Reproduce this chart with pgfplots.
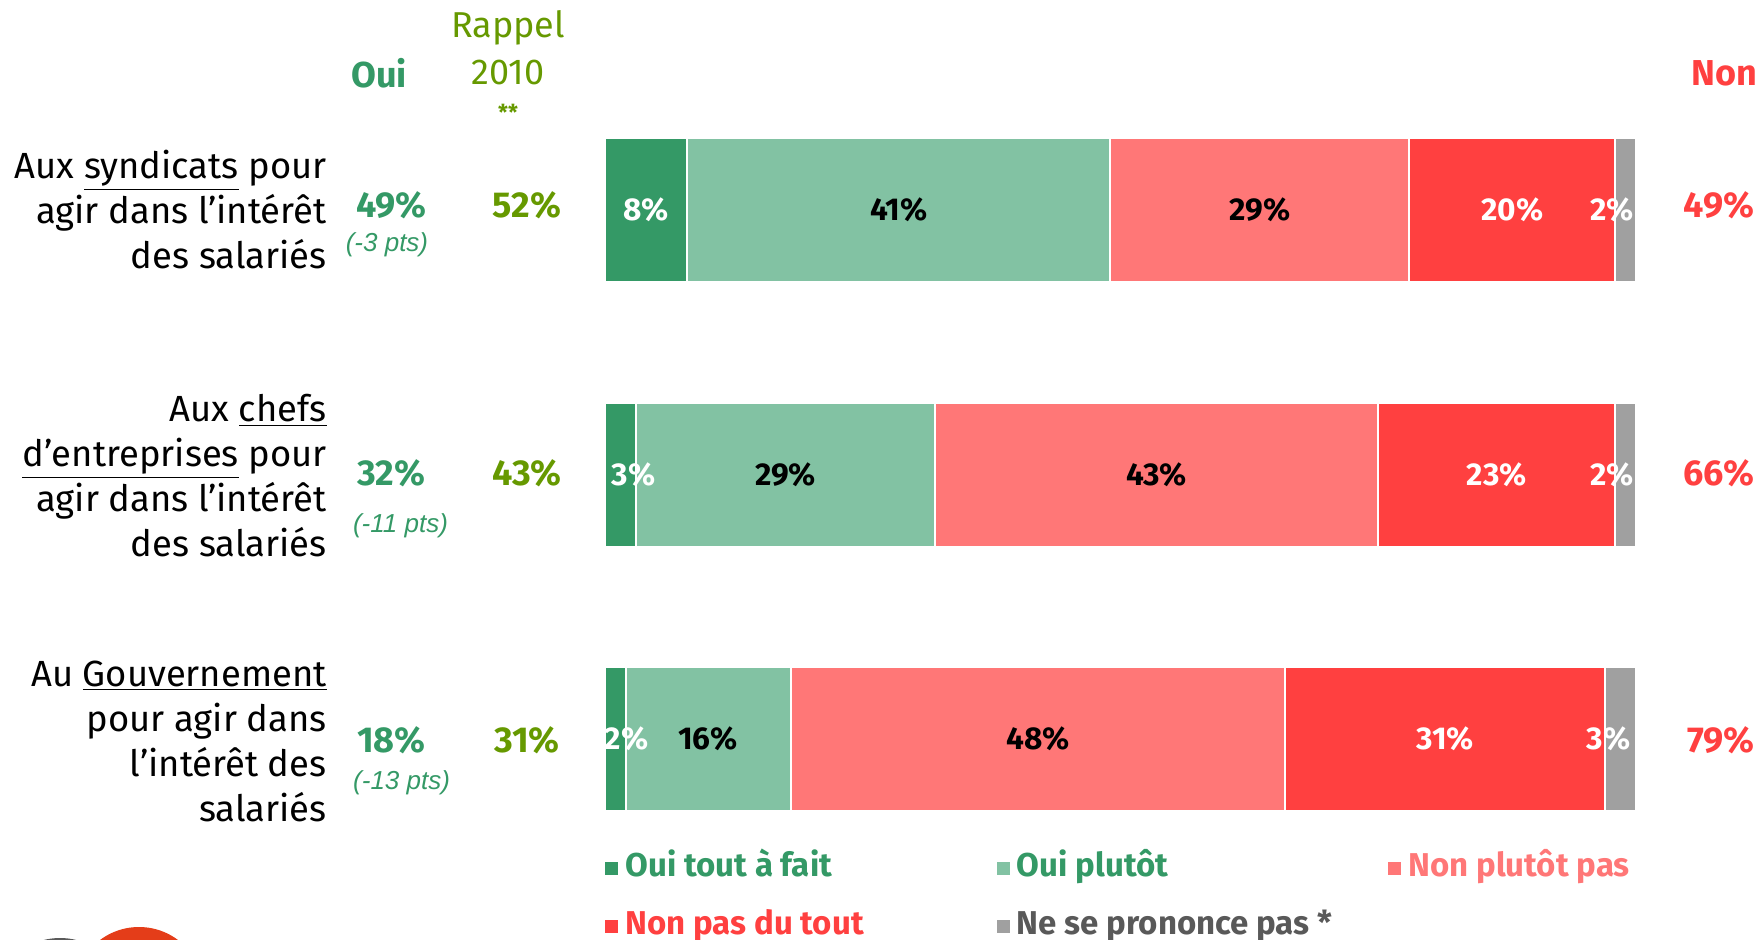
\documentclass[border=0pt]{standalone}
\usepackage{pgfplots}
\pgfplotsset{compat=1.18}
\usepackage{pgfplotstable}
\usepackage{fontspec}
\setmainfont{Fira Sans}
\newfontfamily\arialfont{Liberation Sans}
\definecolor{dkgreen}{RGB}{52,153,102}
\definecolor{ltgreen}{RGB}{130,194,163}
\definecolor{pinkc}{RGB}{255,119,119}
\definecolor{redc}{RGB}{255,64,64}
\definecolor{grayc}{RGB}{160,160,160}
\definecolor{olive}{RGB}{102,153,0}
\definecolor{legray}{RGB}{89,89,89}
\definecolor{logored}{RGB}{228,61,25}
\definecolor{logogray}{RGB}{90,90,90}

% segment values, one table per answer
\pgfplotstableread{
y v
0 8
1 3
2 2
}\tA
\pgfplotstableread{
y v
0 41
1 29
2 16
}\tB
\pgfplotstableread{
y v
0 29
1 43
2 48
}\tC
\pgfplotstableread{
y v
0 20
1 23
2 31
}\tD
\pgfplotstableread{
y v
0 2
1 2
2 3
}\tE
% labels: start of segment s, value v, small offset dx (in % units)
\pgfplotstableread{
y s v dx
0 0 8 0
1 0 3 1.26
2 0 2 1.09
0 78 20 0
1 75 23 0
2 66 31 0
0 98 2 -1.3
1 98 2 -1.3
2 97 3 -1.16
}\labW
\pgfplotstableread{
y s v dx
0 8 41 0
1 3 29 0
2 2 16 0
0 49 29 0
1 32 43 0
2 18 48 0
}\labB

\pgfplotsset{
  common/.style={
    at={(302.5pt,-237.25pt)}, anchor=west,
    scale only axis, width=515.5pt, height=396.5pt,
    xmin=0, xmax=100, ymin=-0.5, ymax=2.5, y dir=reverse,
    hide axis, clip=false},
  seg/.style={draw=white, line width=1pt, forget plot},
  lab/.style={draw=none, mark=none, forget plot,
    point meta=explicit symbolic, nodes near coords={\pgfplotspointmeta\%},
    every node near coord/.append style={anchor=center, inner sep=0pt,
      font=\fontsize{15.8}{18}\selectfont\bfseries}},
}

\begin{document}
\begin{tikzpicture}[x=0.5pt,y=-0.5pt]
\path[use as bounding box] (0,0) rectangle (1759,940);
% logo (cut off at the bottom)
\fill[logored] (139,992) circle[radius=32.5pt];
\draw[logogray, line width=3pt] (60,1005) circle[radius=32pt];

\begin{axis}[common,
  xbar stacked, bar width=72pt,
  legend columns=3,
  legend style={at={(0.0,0.024)}, anchor=north west, draw=none, fill=none,
     inner sep=0pt, row sep=13pt,
     font=\fontsize{16.5}{19}\selectfont\bfseries,
     nodes={inner sep=0pt, text height=12pt, text depth=4pt},
     /tikz/every odd column/.append style={column sep=3.5pt},
     /tikz/every even column/.append style={column sep=15.75pt}},
  legend image code/.code={\fill[#1,draw=none] (0pt,-3.25pt) rectangle (6.5pt,3.25pt);},
]
\addplot[fill=dkgreen, seg] table[x=v,y=y] {\tA};
\addplot[fill=ltgreen, seg] table[x=v,y=y] {\tB};
\addplot[fill=pinkc, seg] table[x=v,y=y] {\tC};
\addplot[fill=redc, seg] table[x=v,y=y] {\tD};
\addplot[fill=grayc, seg] table[x=v,y=y] {\tE};

\addlegendimage{fill=dkgreen}
\addlegendentry{\makebox[170pt][l]{\textcolor{dkgreen}{Oui tout à fait}}}
\addlegendimage{fill=ltgreen}
\addlegendentry{\makebox[170pt][l]{\textcolor{dkgreen}{Oui plutôt}}}
\addlegendimage{fill=pinkc}
\addlegendentry{\makebox[170pt][l]{\textcolor{pinkc}{Non plutôt pas}}}
\addlegendimage{fill=redc}
\addlegendentry{\makebox[170pt][l]{\textcolor{redc}{Non pas du tout}}}
\addlegendimage{fill=grayc}
\addlegendentry{\makebox[170pt][l]{\textcolor{legray}{Ne se prononce pas *}}}
\end{axis}

\begin{axis}[common]
\addplot[lab, every node near coord/.append style={text=white}]
  table[x expr=\thisrow{s}+\thisrow{v}/2+\thisrow{dx}, y=y, meta=v] {\labW};
\addplot[lab, every node near coord/.append style={text=black}]
  table[x expr=\thisrow{s}+\thisrow{v}/2+\thisrow{dx}, y=y, meta=v] {\labB};
\end{axis}

% row labels
\begin{scope}[every node/.style={anchor=east, align=right, inner sep=0pt, font=\fontsize{18.2}{22.5}\selectfont}]
\node at (327,210) {Aux \underline{syndicats} pour\\agir dans l’intérêt\\des salariés};
\node at (327,476) {Aux \underline{chefs}\\\underline{d’entreprises} pour\\agir dans l’intérêt\\des salariés};
\node at (327,741.5) {Au \underline{Gouvernement}\\pour agir dans\\l’intérêt des\\salariés};
\end{scope}

% headers
\node[text=dkgreen, font=\fontsize{18}{21}\selectfont\bfseries] at (379,73) {Oui};
\node[text=olive, font=\fontsize{18}{21}\selectfont] at (508,28) {Rappel};
\node[text=olive, font=\fontsize{18}{21}\selectfont] at (508,72) {2010};
\node[text=olive, font=\fontsize{11}{13}\selectfont\bfseries] at (508,112) {**};
\node[text=redc, font=\fontsize{18}{21}\selectfont\bfseries] at (1724,73) {Non};

% Oui totals
\begin{scope}[every node/.style={text=dkgreen, font=\fontsize{18}{21}\selectfont\bfseries}]
\node at (391.5,205) {49\%};
\node at (391.5,473.4) {32\%};
\node at (391.5,740) {18\%};
\end{scope}
\begin{scope}[every node/.style={text=dkgreen, font=\arialfont\itshape\fontsize{13}{15}\selectfont}]
\node at (387,244.6) {(-3 pts)};
\node at (400.5,526) {(-11 pts)};
\node at (401.6,783) {(-13 pts)};
\end{scope}
% Rappel 2010
\begin{scope}[every node/.style={text=olive, font=\fontsize{18}{21}\selectfont\bfseries}]
\node at (527,205) {52\%};
\node at (527,473.4) {43\%};
\node at (527,740) {31\%};
\end{scope}
% Non totals
\begin{scope}[every node/.style={anchor=east, inner sep=0pt, text=redc, font=\fontsize{18}{21}\selectfont\bfseries}]
\node at (1755,205) {49\%};
\node at (1755,473.4) {66\%};
\node at (1755,740) {79\%};
\end{scope}
\end{tikzpicture}
\end{document}
